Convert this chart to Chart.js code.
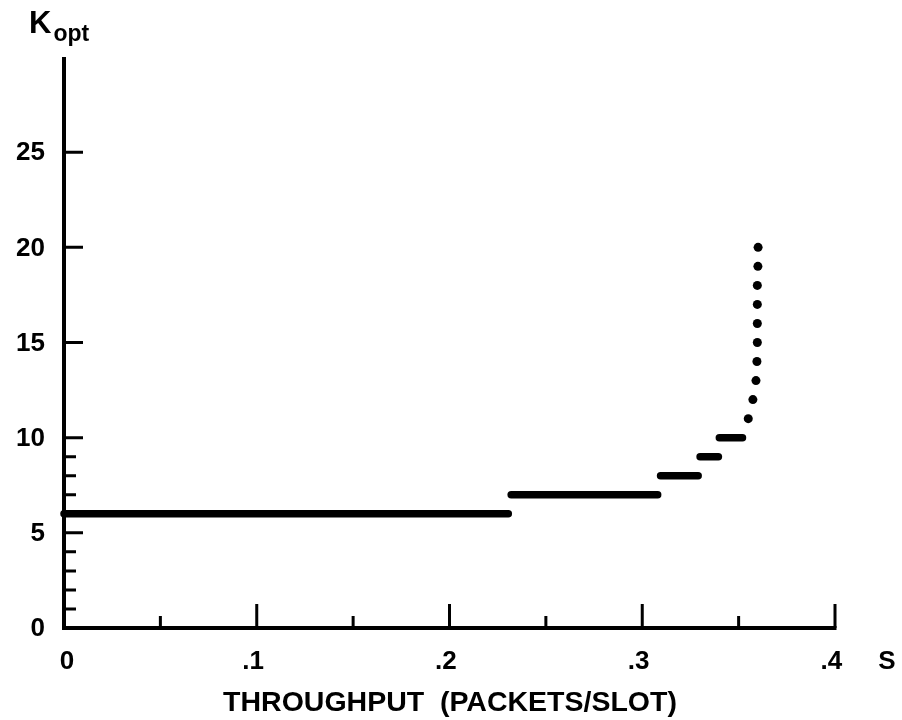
<!DOCTYPE html>
<html>
<head>
<meta charset="utf-8">
<script src="https://cdn.jsdelivr.net/npm/chart.js@4/dist/chart.umd.min.js"></script>
<style>
  html, body { margin: 0; padding: 0; background: #fff; }
  #wrap { width: 902px; height: 720px; position: relative; }
</style>
</head>
<body>
<div id="wrap"><canvas id="c" width="902" height="720"></canvas></div>
<script>
// ---- Data ----
const stepK      = [6, 7, 8, 9, 10];
const stepStartS = [0, 0.232, 0.3095, 0.330, 0.340];
const stepEndS   = [0.2305, 0.308, 0.329, 0.3395, 0.352];

const dotK = [11, 12, 13, 14, 15, 16, 17, 18, 19, 20];
const dotS = [0.355, 0.3574, 0.359, 0.3595, 0.3597, 0.3597, 0.3597, 0.3597, 0.3600, 0.3601];

const xTickValues = [0, 0.1, 0.2, 0.3, 0.4];
const xTickLabels = ['0', '.1', '.2', '.3', '.4'];
const xMinorValues = [0.05, 0.15, 0.25, 0.35];

const yTickValues = [0, 5, 10, 15, 20, 25];
const yTickLabels = ['0', '5', '10', '15', '20', '25'];
const yMinorValues = [1, 2, 3, 4, 6, 7, 8, 9];

const xAxisTitle = 'THROUGHPUT  (PACKETS/SLOT)';
const xAxisEndLabel = 'S';
const yAxisMain = 'K';
const yAxisSub = 'opt';

// ---- Datasets ----
const datasets = stepK.map((k, i) => ({
  data: [{x: stepStartS[i], y: k}, {x: stepEndS[i], y: k}],
  showLine: true,
  borderColor: '#000',
  borderWidth: 7.5,
  borderCapStyle: 'round',
  pointRadius: 0,
  clip: false
}));
datasets.push({
  data: dotS.map((s, i) => ({x: s, y: dotK[i]})),
  showLine: false,
  pointRadius: 4.5,
  pointBackgroundColor: '#000',
  pointBorderWidth: 0,
  clip: false
});

const FONT = '"Liberation Sans", Arial, Helvetica, sans-serif';

const axesPlugin = {
  id: 'axesPlugin',
  beforeDraw(chart) {
    const ctx = chart.ctx;
    ctx.save();
    ctx.fillStyle = '#fff';
    ctx.fillRect(0, 0, chart.width, chart.height);
    ctx.restore();
  },
  afterDraw(chart) {
    const ctx = chart.ctx;
    const xs = chart.scales.x, ys = chart.scales.y;
    const x0 = xs.getPixelForValue(0), x4 = xs.getPixelForValue(0.4);
    const y0 = ys.getPixelForValue(0), yTop = ys.getPixelForValue(30);
    ctx.save();
    ctx.strokeStyle = '#000';
    ctx.fillStyle = '#000';
    ctx.lineCap = 'butt';
    // axes
    ctx.lineWidth = 4;
    ctx.beginPath();
    ctx.moveTo(x0, yTop);
    ctx.lineTo(x0, y0 + 2);
    ctx.moveTo(x0 - 2, y0);
    ctx.lineTo(x4 + 1.5, y0);
    ctx.stroke();
    // y ticks (inside)
    ctx.lineWidth = 3;
    ctx.beginPath();
    yTickValues.forEach(v => {
      if (v === 0) return;
      const y = ys.getPixelForValue(v);
      ctx.moveTo(x0, y); ctx.lineTo(x0 + 19, y);
    });
    yMinorValues.forEach(v => {
      const y = ys.getPixelForValue(v);
      ctx.moveTo(x0, y); ctx.lineTo(x0 + 12, y);
    });
    // x ticks (inside)
    xTickValues.forEach(v => {
      if (v === 0) return;
      const x = xs.getPixelForValue(v);
      ctx.moveTo(x, y0); ctx.lineTo(x, y0 - 24);
    });
    xMinorValues.forEach(v => {
      const x = xs.getPixelForValue(v);
      ctx.moveTo(x, y0); ctx.lineTo(x, y0 - 12);
    });
    ctx.stroke();

    // y tick labels
    ctx.font = 'bold 26px ' + FONT;
    ctx.textBaseline = 'middle';
    ctx.textAlign = 'right';
    yTickValues.forEach((v, i) => {
      ctx.fillText(yTickLabels[i], x0 - 19, ys.getPixelForValue(v) + 1);
    });
    // x tick labels: digit centred on tick
    ctx.textAlign = 'right';
    xTickValues.forEach((v, i) => {
      const lab = xTickLabels[i];
      const lastW = ctx.measureText(lab.slice(-1)).width;
      ctx.fillText(lab, xs.getPixelForValue(v) + lastW / 2 + (v === 0 ? 3 : 0), y0 + 34);
    });
    ctx.textAlign = 'center';
    ctx.fillText(xAxisEndLabel, 887, y0 + 34);

    // x axis title
    ctx.font = 'bold 28.5px ' + FONT;
    ctx.fillText(xAxisTitle, 450, 703);

    // y axis label K_opt
    ctx.textAlign = 'left';
    ctx.textBaseline = 'alphabetic';
    ctx.font = 'bold 31px ' + FONT;
    ctx.fillText(yAxisMain, 29, 33);
    const kw = ctx.measureText(yAxisMain).width;
    ctx.font = 'bold 23px ' + FONT;
    ctx.fillText(yAxisSub, 29 + kw + 2, 41);
    ctx.restore();
  }
};

new Chart(document.getElementById('c'), {
  type: 'scatter',
  data: { datasets },
  options: {
    responsive: false,
    animation: false,
    events: [],
    layout: { padding: { left: 64, right: 67, top: 57, bottom: 92 } },
    plugins: { legend: { display: false }, tooltip: { enabled: false } },
    scales: {
      x: { type: 'linear', min: 0, max: 0.4, display: false },
      y: { type: 'linear', min: 0, max: 30, display: false }
    }
  },
  plugins: [axesPlugin]
});
</script>
</body>
</html>
